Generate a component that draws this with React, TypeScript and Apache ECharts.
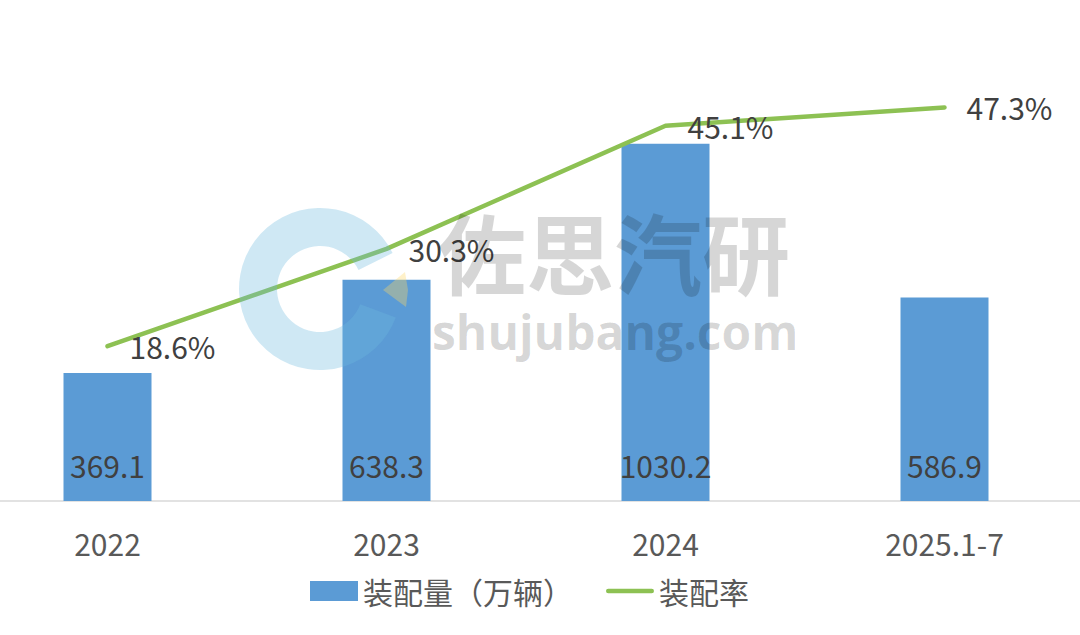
import React, { useEffect, useRef } from "react";
import * as echarts from "echarts";

const categories = ["2022", "2023", "2024", "2025.1-7"];
const volume = [369.1, 638.3, 1030.2, 586.9];
const rate = [18.6, 30.3, 45.1, 47.3];
const seriesNames = ["装配量（万辆）", "装配率"];

const FONT = '"Noto Sans CJK SC", "Microsoft YaHei", sans-serif';
const OFF = 32; // chart canvas is shifted left so the first category sits near the edge, as in the reference

export default function App() {
  const ref = useRef<HTMLDivElement>(null);
  useEffect(() => {
    if (!ref.current) return;
    const chart = echarts.init(ref.current, null, { renderer: "svg" });
    chart.setOption({
      animation: false,
      backgroundColor: "#ffffff",
      textStyle: { fontFamily: FONT },
      grid: { left: 0, right: 0, top: 85, bottom: 134 },
      legend: {
        top: 571,
        left: 305 + OFF,
        itemWidth: 48,
        itemHeight: 20,
        itemGap: 33,
        textStyle: { fontSize: 30, color: "#595959", fontFamily: FONT },
        data: [
          { name: seriesNames[0], icon: "rect" },
          { name: seriesNames[1], icon: "path://M2.5,0h47a2.5,2.5 0 0 1 0,5h-47a2.5,2.5 0 0 1 0,-5z" },
        ],
      },
      xAxis: {
        type: "category",
        data: categories,
        axisLine: { lineStyle: { color: "#d9d9d9", width: 1.5 } },
        axisTick: { show: false },
        axisLabel: { fontSize: 30, color: "#595959", margin: 27, fontFamily: FONT },
      },
      yAxis: [
        { type: "value", min: 0, max: 1200, show: false, splitLine: { show: false } },
        { type: "value", min: 0, max: 50, show: false, splitLine: { show: false } },
      ],
      series: [
        {
          name: seriesNames[0],
          type: "bar",
          data: volume,
          barWidth: 88,
          itemStyle: { color: "#5b9bd5" },
          label: {
            show: true,
            position: "insideBottom",
            distance: 21,
            fontSize: 30,
            color: "#404040",
            fontFamily: FONT,
          },
        },
        {
          name: seriesNames[1],
          type: "line",
          yAxisIndex: 1,
          data: rate,
          symbol: "circle",
          symbolSize: 0.1,
          showSymbol: true,
          lineStyle: { color: "#8dc153", width: 4.5, cap: "round" },
          itemStyle: { color: "#8dc153" },
          label: {
            show: true,
            position: "right",
            distance: 22,
            fontSize: 30,
            color: "#404040",
            fontFamily: FONT,
            formatter: (p: any) => p.value.toFixed(1) + "%",
          },
        },
      ],
      graphic: [
        {
          type: "sector",
          z: 100,
          shape: { cx: 320 + OFF, cy: 289, r: 81, r0: 43, startAngle: 0.36, endAngle: Math.PI * 2 - 0.46 },
          style: { fill: "rgba(110,185,222,0.33)" },
        },
        {
          type: "polygon",
          z: 100,
          shape: { points: [[383 + OFF, 290], [405 + OFF, 272], [408 + OFF, 290], [406 + OFF, 307]] },
          style: { fill: "rgba(255,215,100,0.35)" },
        },
        {
          type: "text",
          z: 100,
          left: 438 + OFF,
          top: 205,
          style: {
            text: "佐思汽研",
            font: 'bold 88px "Noto Sans CJK SC", sans-serif',
            fill: "rgba(0,0,0,0.16)",
          },
        },
        {
          type: "text",
          z: 100,
          left: 432 + OFF,
          top: 307,
          style: {
            text: "shujubang.com",
            font: 'bold 48px "Open Sans", sans-serif',
            fill: "rgba(0,0,0,0.16)",
          },
        },
      ],
    });
    return () => chart.dispose();
  }, []);
  return (
    <div style={{ position: "absolute", left: 0, top: 0, width: 1080, height: 635, overflow: "hidden", background: "#fff" }}>
      <div ref={ref} style={{ position: "absolute", left: -OFF, top: 0, width: 1116, height: 635 }} />
    </div>
  );
}
